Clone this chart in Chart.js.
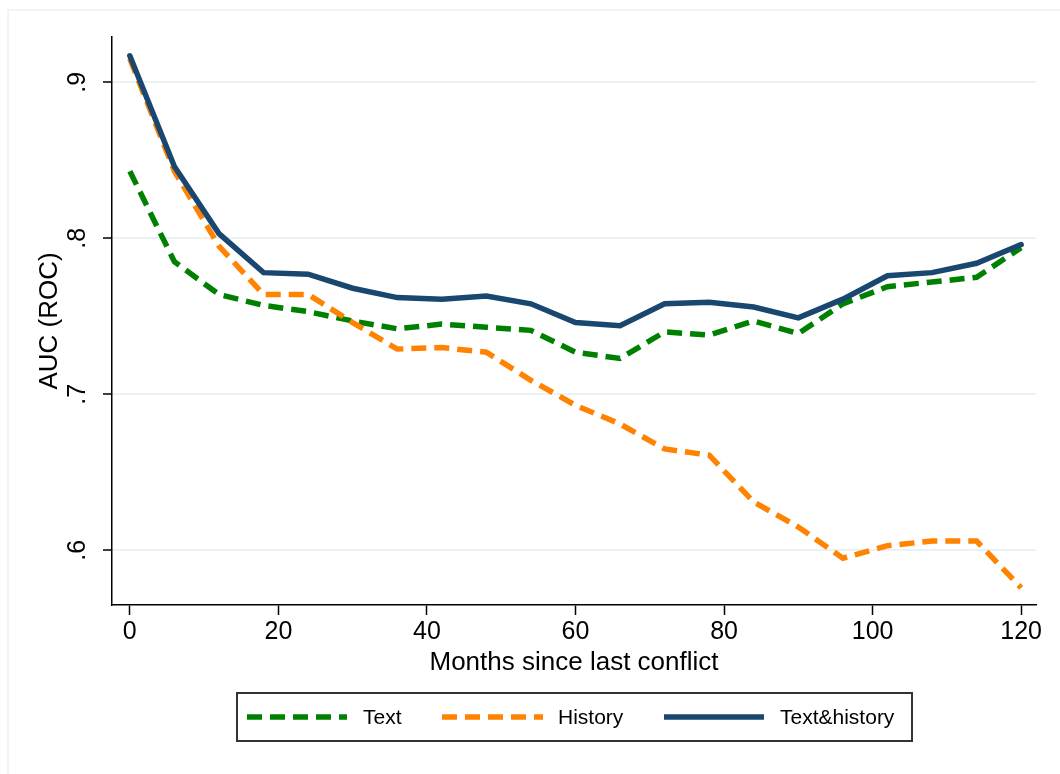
<!DOCTYPE html>
<html>
<head>
<meta charset="utf-8">
<script src="https://cdn.jsdelivr.net/npm/chart.js@4/dist/chart.umd.min.js"></script>
<style>
  html, body { margin: 0; padding: 0; background: #fff; }
  #wrap { width: 1060px; height: 774px; }
</style>
</head>
<body>
<div id="wrap"><canvas id="aucChart" width="1060" height="774"></canvas></div>
<script>
"use strict";
// ------------------------------------------------------- //
// Data
// ------------------------------------------------------ //
var months = [0, 6, 12, 18, 24, 30, 36, 42, 48, 54, 60, 66, 72, 78, 84, 90, 96, 102, 108, 114, 120];
var aucText = [.843, .785, .764, .757, .753, .747, .742, .745, .743, .741, .727, .723, .740, .738, .747, .739, .758, .769, .772, .775, .794];
var aucHistory = [.915, .843, .795, .764, .764, .746, .729, .730, .727, .709, .693, .681, .665, .661, .631, .615, .595, .603, .606, .606, .576];
var aucBoth = [.917, .846, .803, .778, .777, .768, .762, .761, .763, .758, .746, .744, .758, .759, .756, .749, .761, .776, .778, .784, .796];
var seriesNames = ["Text", "History", "Text&history"];
var xTicks = [0, 20, 40, 60, 80, 100, 120];
var yTicks = [.6, .7, .8, .9];

var green = "#008000";
var orange = "#ff8200";
var navy = "#1a476f";
var fontFamily = "'Liberation Sans', Arial, Helvetica, sans-serif";

function toPoints(values) {
    return months.map(function (m, i) { return { x: m, y: values[i] }; });
}

function fmtY(v) {
    return String(v).replace(/^0/, "");
}

// y tick labels (rotated), faint frame and the boxed legend
var stataExtras = {
    id: "stataExtras",
    beforeDraw: function (chart) {
        var ctx = chart.ctx;
        ctx.save();
        ctx.strokeStyle = "#eaf2f3";
        ctx.lineWidth = 1.5;
        ctx.beginPath();
        ctx.moveTo(8, 774);
        ctx.lineTo(8, 10);
        ctx.lineTo(1060, 10);
        ctx.stroke();
        ctx.restore();
    },
    afterDraw: function (chart) {
        var ctx = chart.ctx;
        var yScale = chart.scales.y;
        ctx.save();
        ctx.fillStyle = "#000";
        ctx.font = "25px " + fontFamily;
        ctx.textAlign = "center";
        ctx.textBaseline = "middle";
        yTicks.forEach(function (v) {
            var py = yScale.getPixelForValue(v);
            ctx.save();
            ctx.translate(78, py);
            ctx.rotate(-Math.PI / 2);
            ctx.fillText(fmtY(v), 0, 0);
            ctx.restore();
        });

        // legend box
        ctx.strokeStyle = "#333";
        ctx.lineWidth = 2;
        ctx.strokeRect(237, 693, 675, 48);
        var items = [
            { x0: 247, x1: 347, tx: 363 },
            { x0: 442, x1: 543, tx: 558 },
            { x0: 664, x1: 764, tx: 780 }
        ];
        var ly = 717;
        ctx.font = "21px " + fontFamily;
        ctx.textAlign = "left";
        chart.data.datasets.forEach(function (ds, i) {
            var it = items[i];
            ctx.save();
            ctx.strokeStyle = ds.borderColor;
            ctx.lineWidth = ds.borderWidth;
            ctx.lineCap = "butt";
            ctx.setLineDash(ds.borderDash || []);
            ctx.beginPath();
            ctx.moveTo(it.x0, ly);
            ctx.lineTo(it.x1, ly);
            ctx.stroke();
            ctx.restore();
            ctx.fillStyle = "#000";
            ctx.fillText(ds.label, it.tx, ly + 1);
        });
        ctx.restore();
    }
};

var AUCCHART = document.getElementById("aucChart");
var myAucChart = new Chart(AUCCHART, {
    type: "line",
    plugins: [stataExtras],
    data: {
        datasets: [
            {
                label: seriesNames[0],
                data: toPoints(aucText),
                borderColor: green,
                backgroundColor: green,
                borderWidth: 5.5,
                borderDash: [15, 8],
                borderCapStyle: "butt",
                borderJoinStyle: "miter",
                pointRadius: 0,
                tension: 0,
                fill: false,
                order: 2
            },
            {
                label: seriesNames[1],
                data: toPoints(aucHistory),
                borderColor: orange,
                backgroundColor: orange,
                borderWidth: 5.5,
                borderDash: [15, 8],
                borderCapStyle: "butt",
                borderJoinStyle: "miter",
                pointRadius: 0,
                tension: 0,
                fill: false,
                order: 1
            },
            {
                label: seriesNames[2],
                data: toPoints(aucBoth),
                borderColor: navy,
                backgroundColor: navy,
                borderWidth: 5.5,
                borderCapStyle: "round",
                borderJoinStyle: "miter",
                pointRadius: 0,
                tension: 0,
                fill: false,
                order: 0
            }
        ]
    },
    options: {
        responsive: false,
        animation: false,
        devicePixelRatio: 1,
        layout: {
            padding: { left: 34.4, top: 37, right: 24, bottom: 95.4 }
        },
        plugins: {
            legend: { display: false },
            tooltip: { enabled: false }
        },
        scales: {
            x: {
                type: "linear",
                min: -2.4,
                max: 122,
                afterBuildTicks: function (scale) {
                    scale.ticks = xTicks.map(function (v) { return { value: v }; });
                },
                afterFit: function (scale) {
                    scale.height = 73.6;
                },
                grid: {
                    drawOnChartArea: false,
                    drawTicks: true,
                    tickLength: 10,
                    tickColor: "#000",
                    tickWidth: 1.5
                },
                border: { display: true, color: "#000", width: 1.5 },
                ticks: {
                    color: "#000",
                    padding: 2,
                    maxRotation: 0,
                    autoSkip: false,
                    font: { family: fontFamily, size: 25 }
                },
                title: {
                    display: true,
                    text: "Months since last conflict",
                    color: "#000",
                    padding: 0,
                    font: { family: fontFamily, size: 26 }
                }
            },
            y: {
                type: "linear",
                min: 0.565,
                max: 0.929,
                afterBuildTicks: function (scale) {
                    scale.ticks = yTicks.map(function (v) { return { value: v }; });
                },
                afterFit: function (scale) {
                    scale.width = 77.6;
                },
                grid: {
                    color: "#eaf2f3",
                    lineWidth: 2,
                    drawTicks: true,
                    tickLength: 9,
                    tickColor: "#000",
                    tickWidth: 1.5
                },
                border: { display: true, color: "#000", width: 1.5 },
                ticks: { display: false },
                title: {
                    display: true,
                    text: "AUC (ROC)",
                    color: "#000",
                    padding: 0,
                    font: { family: fontFamily, size: 26 }
                }
            }
        }
    }
});
</script>
</body>
</html>
